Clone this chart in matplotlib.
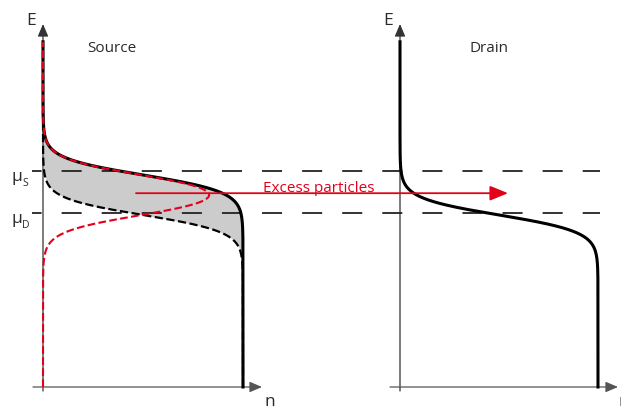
import numpy as np
import matplotlib
matplotlib.use('Agg')
import matplotlib.pyplot as plt
from matplotlib.patches import FancyArrowPatch

plt.rcParams['font.family'] = ['Open Sans', 'DejaVu Sans']

# Fermi levels, temperature and filling (E in arbitrary units, n normalised)
mu_S = 5.3
mu_D = 4.3
kT = 0.21
N = 1.0
level_S = 5.4          # where the dashed mu_S line is drawn
level_D = 4.35         # where the dashed mu_D line is drawn
drain_off = 1.785      # where the drain panel's n=0 sits
E_top = 8.63           # curves start here
E_axis = 9.075         # axis arrow tip
n_axis = 1.095         # length of the n axis arrow
red = '#e2001a'
grey = '#2a2a2a'

E = np.linspace(0, E_top, 800)

def fermi(E, mu):
    return N / (1 + np.exp((E - mu) / kT))

f_S = fermi(E, mu_S)
f_D = fermi(E, mu_D)
excess = f_S - f_D

fig = plt.figure(figsize=(6.21, 4.10), dpi=100)
ax = fig.add_axes([0, 0, 1, 1])
ax.set_xlim(-0.215, 2.89)
ax.set_ylim(-0.55, 9.7)
ax.axis('off')

def arrow(x0, y0, x1, y1, color, lw, hl, hw, z):
    a = FancyArrowPatch((x0, y0), (x1, y1), arrowstyle='-|>,head_length=%g,head_width=%g' % (hl, hw),
                        mutation_scale=10, color=color, lw=lw, shrinkA=0, shrinkB=0, zorder=z)
    ax.add_patch(a)

# axes of both panels
for x0, xend in [(0, n_axis), (drain_off, 2.875)]:
    arrow(x0, -0.1, x0, E_axis, '#333333', 0.9, 0.75, 0.32, 2)
    arrow(x0 - 0.05, 0, xend, 0, '#555555', 0.9, 0.75, 0.32, 2)

# Fermi levels
for lev in [level_S, level_D]:
    ax.plot([-0.055, 2.785], [lev, lev], color='#222222', lw=1.3,
            linestyle=(5.8, (11.1, 11.1)), zorder=3)

# source
ax.fill_betweenx(E, f_D, f_S, color='#cccccc', lw=0, zorder=1)
ax.plot(f_S, E, color='black', lw=2.2, zorder=4)
ax.plot(f_D, E, color='black', lw=1.6, ls='--', zorder=5)
ax.plot(excess, E, color=red, lw=1.5, ls='--', zorder=6)

# drain
ax.plot(drain_off + f_D * 0.99, E, color='black', lw=2.2, zorder=4)

# excess particles arrow
y_arr = (level_S + level_D) / 2 - 0.03
arrow(0.465, y_arr, 2.325, y_arr, red, 1.3, 1.1, 0.45, 7)
ax.text(1.38, y_arr + 0.05, 'Excess particles', color=red, fontsize=11,
        ha='center', va='baseline', zorder=8)

# labels
ax.text(0.345, 8.5, 'Source', fontsize=11, ha='center', va='center', color=grey)
ax.text(2.23, 8.5, 'Drain', fontsize=11, ha='center', va='center', color=grey)
ax.text(-0.035, 9.075, 'E', fontsize=12.5, ha='right', va='baseline', color=grey)
ax.text(drain_off - 0.035, 9.075, 'E', fontsize=12.5, ha='right', va='baseline', color=grey)
ax.text(1.11, -0.45, 'n', fontsize=12.5, ha='left', va='baseline', color=grey)
ax.text(2.88, -0.45, 'n', fontsize=12.5, ha='left', va='baseline', color=grey)
for lev, sub in [(level_S, 'S'), (level_D, 'D')]:
    ax.text(-0.158, lev - 0.12, '\u03bc', fontsize=12.5, ha='left', va='center', color=grey)
    ax.text(-0.105, lev - 0.3, sub, fontsize=7.5, ha='left', va='center', color=grey)

fig.savefig('out.png', dpi=100)
